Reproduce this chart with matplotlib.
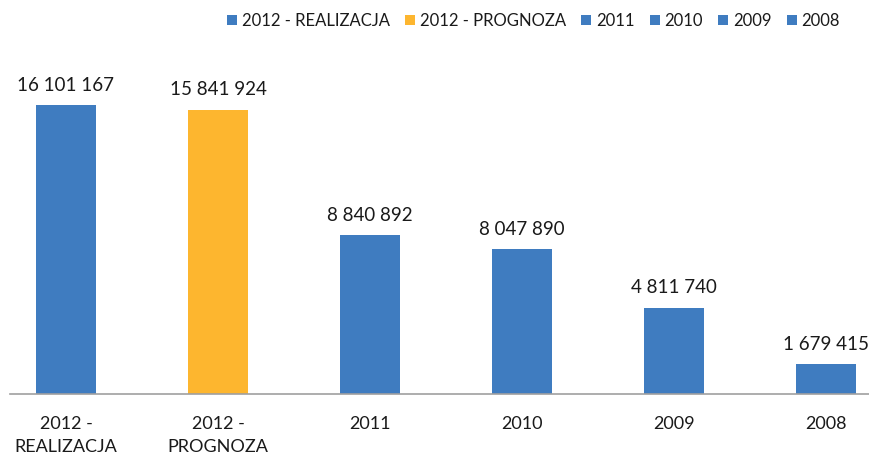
import matplotlib.pyplot as plt
from matplotlib.patches import Patch

categories = ["2012 -\nREALIZACJA", "2012 -\nPROGNOZA", "2011", "2010", "2009", "2008"]
legend_names = ["2012 - REALIZACJA", "2012 - PROGNOZA", "2011", "2010", "2009", "2008"]
values = [16101167, 15841924, 8840892, 8047890, 4811740, 1679415]
colors = ["#3f7cc0", "#fdb62f", "#3f7cc0", "#3f7cc0", "#3f7cc0", "#3f7cc0"]

plt.rcParams["font.family"] = ["Lato", "DejaVu Sans"]

fig = plt.figure(figsize=(8.69, 4.59), dpi=100)
# axes box in figure pixels: left 10, right 869, baseline at y=394 from top
ax = fig.add_axes([10 / 869, (459 - 394) / 459, 859 / 869, (394 - 60) / 459])

x = list(range(len(values)))
ax.bar(x, values, width=0.4, color=colors, zorder=2)
ax.set_xlim(-0.368, 5.283)
ax.set_ylim(0, 18.6e6)

for xi, v in zip(x, values):
    label = f"{v:,}".replace(",", " ")
    ax.annotate(label, (xi, v), xytext=(0, 8), textcoords="offset points",
                ha="center", va="bottom", fontsize=13.5, color="#1a1a1a")

ax.set_xticks(x)
ax.set_xticklabels(categories, fontsize=13, color="#1a1a1a", linespacing=1.55)
ax.tick_params(axis="x", length=0, pad=16)
ax.set_yticks([])
for side in ["top", "right", "left"]:
    ax.spines[side].set_visible(False)
ax.spines["bottom"].set_color("#a0a0a0")
ax.spines["bottom"].set_linewidth(1.2)

handles = [Patch(facecolor=c) for c in colors]
fig.legend(handles, legend_names, loc="center", bbox_to_anchor=(0.614, 1 - 21 / 459),
           ncol=6, frameon=False, fontsize=12, handlelength=0.6, handleheight=0.6,
           handletextpad=0.3, columnspacing=0.9, labelcolor="#1a1a1a")

fig.savefig("out.png", dpi=100)
